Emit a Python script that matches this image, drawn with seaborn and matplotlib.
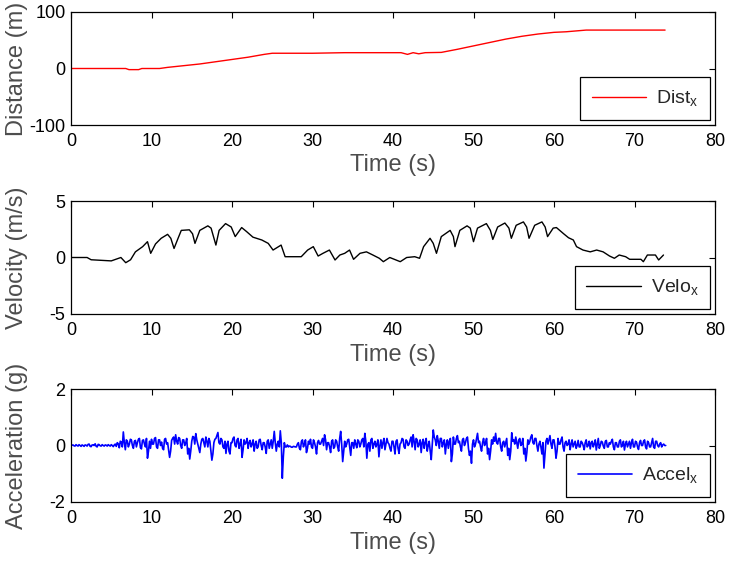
import matplotlib
matplotlib.use("Agg")
import matplotlib.pyplot as plt
import seaborn as sns
import pandas as pd
import numpy as np

# Distance (m) vs time (s)
dist_t = [0, 6.8, 7.2, 8.4, 8.8, 11, 12, 14, 16, 18, 20, 22, 24, 25, 30, 34, 41,
          41.8, 42.5, 43.2, 44, 46, 48, 50, 52, 54, 56, 58, 60, 61.5, 64, 73.8]
dist_x = [0, 0, -2, -2, 0, 0, 2, 5, 8, 12, 16, 20, 25, 27, 27, 28, 28,
          25, 28, 26, 28, 28.5, 34, 40, 46, 52, 57, 61, 64, 65, 68, 68]

# Velocity (m/s) vs time (s)
velo_t = [0, 2, 2.5, 5, 6.2, 6.8, 7.4, 8.0, 8.9, 9.5, 9.9, 10.5, 11.2, 12.0, 12.4,
          12.8, 13.3, 13.7, 14.7, 15.1, 15.4, 16.0, 17.0, 17.4, 18.0, 18.4, 19.2,
          19.9, 20.4, 21.2, 21.8, 22.6, 23.7, 24.5, 25.1, 26.1, 26.6, 28.6, 29.4,
          30.1, 30.7, 31.3, 32.1, 32.8, 33.4, 34.0, 34.6, 35.1, 35.9, 36.7, 37.5,
          38.3, 38.8, 39.6, 40.9, 41.7, 42.7, 43.3, 43.8, 44.6, 45.0, 45.4, 46.0,
          47.1, 47.5, 47.7, 48.3, 49.2, 49.6, 50.0, 50.5, 51.6, 52.1, 52.4, 53.0,
          53.9, 54.4, 54.7, 55.3, 56.2, 56.6, 56.9, 57.6, 58.5, 58.9, 59.2, 59.9,
          60.3, 61.2, 61.8, 62.4, 62.8, 63.6, 64.5, 65.3, 66.1, 66.9, 67.5, 68.1,
          68.9, 69.4, 70.8, 71.1, 71.6, 72.6, 73.0, 73.6]
velo_x = [0, 0, -0.2, -0.3, 0, -0.46, -0.2, 0.5, 0.96, 1.4, 0.37, 1.2, 1.7, 2.05, 1.7,
          0.8, 1.7, 2.4, 2.45, 2.1, 1.25, 2.4, 2.8, 2.6, 1.1, 2.4, 3.0,
          2.7, 1.85, 2.65, 2.3, 1.8, 1.55, 1.25, 0.66, 1.1, 0.07, 0.07, 0.66,
          0.96, 0.13, 0.37, 0.66, -0.22, 0.22, 0.37, 0.66, -0.16, 0.37, 0.5, 0.22,
          -0.07, -0.37, 0.0, -0.37, 0.0, 0.07, -0.07, 0.96, 1.7, 1.25, 0.37, 1.85,
          2.4, 1.85, 0.96, 2.4, 2.8, 2.6, 1.4, 2.6, 3.0, 2.4, 1.6, 2.7,
          3.05, 2.6, 1.7, 2.85, 3.15, 2.7, 1.7, 2.85, 3.15, 2.7, 1.85, 2.6,
          2.65, 2.1, 1.75, 1.55, 0.96, 0.66, 0.5, 0.66, 0.5, 0.13, -0.07, 0.22,
          0.07, -0.16, -0.16, -0.37, 0.22, 0.22, -0.22, 0.22]

# Acceleration (g): samples on the quarter second and samples between them
accel_dt = 0.125
accel_even = [
    0.00, 0.02, -0.02, 0.00, 0.03, -0.03, 0.00, 0.02,
    -0.02, 0.05, -0.04, 0.02, 0.06, -0.05, 0.03, -0.02,
    0.00, 0.02, -0.02, 0.00, 0.03, -0.04, 0.05, 0.10,
    -0.08, 0.12, 0.48, -0.15, 0.15, 0.05, 0.20, -0.10,
    0.18, 0.10, 0.25, -0.12, 0.20, -0.05, -0.45, 0.15,
    0.22, 0.05, 0.28, -0.10, 0.20, 0.12, -0.15, 0.25,
    0.10, -0.42, 0.18, 0.30, 0.38, 0.05, 0.25, -0.10,
    0.20, 0.08, -0.30, -0.48, 0.15, 0.30, 0.42, 0.05,
    -0.25, 0.22, 0.10, 0.30, -0.05, 0.15, -0.52, 0.10,
    0.25, 0.46, 0.05, 0.20, -0.10, -0.28, 0.15, -0.30,
    0.10, 0.30, -0.05, 0.25, 0.05, -0.42, 0.20, 0.10,
    -0.10, 0.18, 0.05, -0.20, 0.15, -0.05, 0.22, -0.15,
    0.10, -0.28, 0.20, 0.05, -0.10, 0.50, -0.20, 0.15,
    0.52, -1.16, 0.10, -0.05, -0.05, -0.03, -0.06, -0.04,
    -0.05, 0.10, -0.15, 0.20, 0.05, -0.25, 0.15, 0.22,
    -0.10, 0.10, -0.30, 0.18, 0.05, 0.25, 0.38, -0.15,
    0.10, -0.25, 0.20, -0.05, 0.15, -0.20, 0.50, -0.57,
    0.15, 0.05, 0.22, -0.35, 0.10, 0.20, -0.08, 0.15,
    0.05, 0.25, 0.43, -0.45, 0.10, 0.20, -0.10, 0.15,
    0.05, -0.40, 0.20, 0.10, -0.15, 0.25, 0.05, -0.20,
    0.15, -0.30, 0.20, -0.28, 0.10, 0.22, -0.10, 0.15,
    0.05, 0.30, 0.38, -0.15, 0.20, 0.05, -0.25, 0.22,
    0.10, -0.20, 0.15, -0.50, 0.55, 0.20, 0.35, -0.10,
    0.25, 0.10, -0.30, 0.20, 0.15, -0.57, 0.30, 0.05,
    0.35, 0.15, -0.20, 0.25, 0.10, 0.30, -0.35, -0.63,
    0.20, 0.05, 0.43, 0.15, -0.20, 0.25, 0.10, -0.30,
    -0.50, 0.20, 0.30, 0.43, 0.05, 0.25, -0.20, 0.15,
    0.10, -0.35, -0.50, 0.45, 0.20, 0.30, -0.10, 0.25,
    0.05, -0.30, -0.55, 0.20, 0.15, 0.38, 0.05, 0.25,
    -0.20, 0.15, -0.30, -0.80, 0.15, 0.05, 0.35, -0.10,
    0.20, -0.45, 0.25, 0.05, 0.30, -0.20, 0.15, 0.05,
    -0.15, 0.20, 0.05, -0.10, 0.18, -0.05, 0.10, -0.15,
    0.20, 0.00, -0.12, 0.15, 0.05, -0.16, 0.25, 0.00,
    0.12, -0.10, 0.18, -0.05, 0.05, 0.22, -0.15, 0.10,
    -0.05, 0.20, 0.00, -0.16, 0.15, 0.05, -0.10, 0.22,
    -0.05, 0.12, -0.14, 0.18, 0.00, 0.20, -0.12, 0.10,
    -0.05, 0.25, -0.10, 0.15, -0.05, 0.10, 0.02, 0.00,
]
accel_odd = [
    0.01, -0.01, 0.03, -0.02, 0.00, 0.02, -0.03, 0.01,
    0.04, -0.03, 0.02, 0.00, -0.03, 0.04, -0.01, 0.03,
    -0.02, 0.01, 0.03, -0.02, 0.00, 0.02, -0.03, 0.06,
    0.15, -0.05, 0.10, 0.20, -0.05, 0.22, 0.00, 0.15,
    -0.05, 0.22, -0.08, 0.18, 0.05, 0.25, -0.20, -0.10,
    0.05, 0.25, -0.05, 0.20, 0.00, -0.10, 0.22, 0.05,
    -0.15, -0.20, 0.25, 0.05, 0.15, 0.28, 0.00, 0.20,
    0.00, 0.25, -0.10, -0.20, 0.32, 0.05, 0.20, -0.10,
    0.05, 0.25, -0.05, 0.15, 0.25, -0.20, -0.30, 0.22,
    0.35, 0.10, 0.25, -0.05, 0.15, 0.05, -0.20, 0.10,
    0.25, 0.00, 0.20, -0.10, 0.22, -0.15, 0.05, 0.25,
    0.10, -0.05, 0.20, 0.05, -0.10, 0.20, 0.00, 0.10,
    -0.05, 0.15, -0.10, 0.20, 0.15, 0.10, 0.05, -0.05,
    0.10, -0.40, -0.05, 0.02, -0.02, -0.06, -0.03, -0.05,
    0.05, -0.10, 0.15, -0.05, 0.20, -0.10, 0.05, -0.05,
    0.20, -0.05, 0.10, 0.05, 0.15, 0.00, 0.20, 0.10,
    -0.05, 0.15, -0.10, 0.20, -0.05, 0.25, 0.05, -0.20,
    -0.05, 0.20, -0.05, 0.10, -0.10, 0.05, 0.20, -0.05,
    0.20, -0.05, 0.15, 0.05, -0.20, 0.25, 0.05, -0.05,
    0.20, 0.00, -0.10, 0.25, 0.05, 0.10, -0.10, 0.15,
    -0.05, 0.15, -0.10, 0.05, 0.25, -0.05, 0.20, 0.00,
    0.20, -0.05, 0.15, 0.25, -0.05, 0.20, 0.10, -0.10,
    0.25, 0.00, -0.20, 0.05, 0.30, 0.00, 0.15, 0.25,
    -0.05, 0.20, 0.05, -0.10, 0.25, -0.30, 0.05, 0.25,
    0.10, -0.05, 0.20, 0.00, 0.25, -0.10, -0.20, 0.05,
    -0.05, 0.25, 0.10, -0.05, 0.10, 0.00, 0.25, -0.10,
    -0.20, 0.05, 0.15, 0.10, 0.25, -0.05, 0.10, -0.05,
    0.25, -0.10, -0.20, 0.15, 0.05, 0.10, 0.20, 0.00,
    0.25, -0.10, -0.25, 0.05, 0.30, 0.10, 0.25, 0.00,
    0.05, -0.05, 0.10, -0.30, 0.25, 0.20, 0.05, 0.20,
    -0.05, -0.20, 0.05, 0.20, -0.05, 0.10, 0.00, 0.20,
    0.05, -0.05, 0.15, 0.00, -0.05, 0.15, 0.00, 0.10,
    -0.05, 0.15, 0.10, -0.05, 0.20, 0.05, -0.10, 0.15,
    -0.02, 0.15, -0.05, 0.10, 0.15, -0.05, 0.10, -0.05,
    0.15, -0.05, 0.15, 0.05, -0.05, 0.15, 0.10, -0.05,
    0.15, -0.05, 0.10, 0.00, 0.15, -0.05, 0.15, -0.05,
    0.10, -0.05, 0.15, 0.00, 0.05, -0.05, 0.05, 0.00,
]
accel_x = [v for pair in zip(accel_even, accel_odd) for v in pair]
accel_t = np.arange(len(accel_x)) * accel_dt

sns.set_theme(style="white")
plt.rcParams['font.family'] = ['Liberation Sans', 'DejaVu Sans']
plt.rcParams['mathtext.fontset'] = 'custom'
plt.rcParams['mathtext.rm'] = 'Liberation Sans'
plt.rcParams['mathtext.it'] = 'Liberation Sans'
plt.rcParams['axes.unicode_minus'] = False

fig = plt.figure(figsize=(7.33, 5.64), dpi=100)
left, width, height = 71 / 733, 644 / 733, 113 / 564
bottoms = [(564 - 125) / 564, (564 - 314) / 564, (564 - 502) / 564]

panels = [
    (dist_t, dist_x, '#ff0000', 1.0, 'Dist$_x$', 'Distance (m)', (-100, 100), [-100, 0, 100]),
    (velo_t, velo_x, '#000000', 1.0, 'Velo$_x$', 'Velocity (m/s)', (-5, 5), [-5, 0, 5]),
    (accel_t, accel_x, '#0000ff', 1.2, 'Accel$_x$', 'Acceleration (g)', (-2, 2), [-2, 0, 2]),
]

label_color = '#4d4d4d'
for b, (t, y, color, lw, name, ylab, ylim, yticks) in zip(bottoms, panels):
    ax = fig.add_axes([left, b, width, height])
    df = pd.DataFrame({'t': t, 'y': y})
    sns.lineplot(data=df, x='t', y='y', ax=ax, color=color, linewidth=lw,
                 sort=False, estimator=None, label=name)
    ax.set_xlim(0, 80)
    ax.set_ylim(*ylim)
    ax.set_xticks(range(0, 81, 10))
    ax.set_yticks(yticks)
    ax.tick_params(direction='in', length=4, width=0.8, top=True, right=True,
                   labelsize=13, colors='black', pad=4)
    ax.tick_params(axis='x', pad=6)
    for s in ax.spines.values():
        s.set_color('black')
        s.set_linewidth(0.9)
    ax.set_xlabel('Time (s)', fontsize=17, color=label_color, labelpad=3)
    ax.set_ylabel(ylab, fontsize=17, color=label_color)
    ax.yaxis.set_label_coords(-0.066, 0.5)
    leg = ax.legend(loc='lower right', fontsize=14, frameon=True, fancybox=False,
                    edgecolor='black', framealpha=1, handlelength=2.8,
                    borderpad=0.6, borderaxespad=0.25, handletextpad=0.5)
    leg.get_frame().set_linewidth(0.9)

fig.savefig('out.png', dpi=100)
